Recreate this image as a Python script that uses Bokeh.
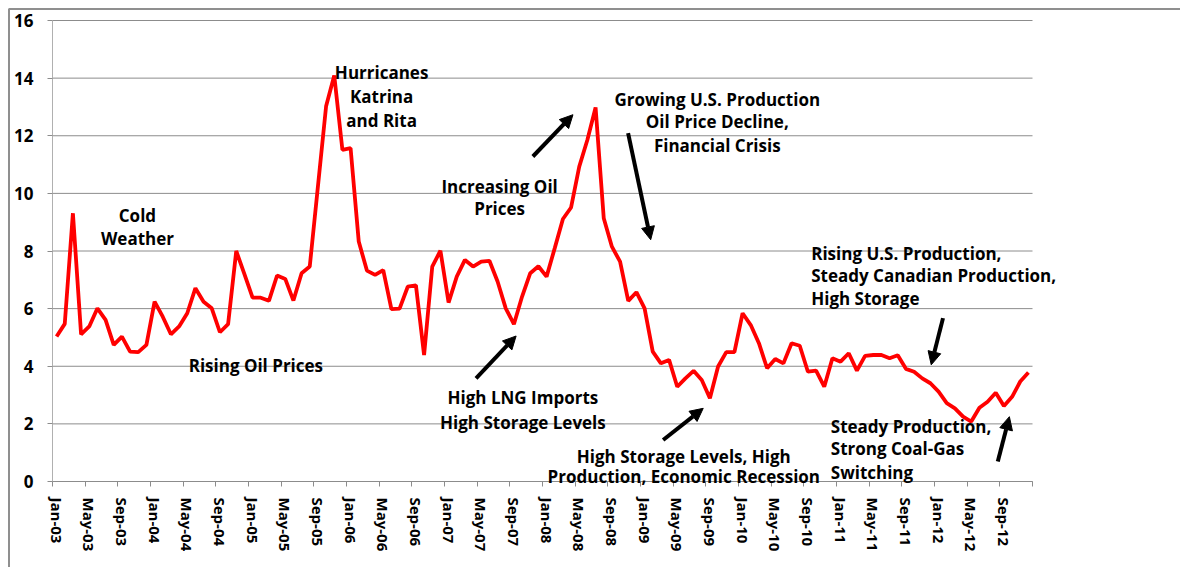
from bokeh.plotting import figure
from bokeh.models import FixedTicker, Label, Arrow, NormalHead, Range1d, ColumnDataSource, LinearAxis
from bokeh.embed import file_html
from bokeh.resources import INLINE

# ---- data ----
month_names = ["Jan", "Feb", "Mar", "Apr", "May", "Jun", "Jul", "Aug", "Sep", "Oct", "Nov", "Dec"]
months = [f"{m}-{y:02d}" for y in range(3, 13) for m in month_names]

prices = [
    5.03, 5.47, 9.31, 5.11, 5.38, 6.01, 5.61, 4.74, 5.03, 4.51, 4.49, 4.74,   # 2003
    6.24, 5.72, 5.11, 5.38, 5.84, 6.71, 6.24, 6.01, 5.18, 5.46, 8.00, 7.20,   # 2004
    6.38, 6.38, 6.27, 7.15, 7.03, 6.28, 7.23, 7.46, 10.24, 13.02, 14.09, 11.51, # 2005
    11.57, 8.33, 7.32, 7.17, 7.34, 5.98, 6.00, 6.76, 6.81, 4.39, 7.46, 8.01,  # 2006
    6.21, 7.11, 7.69, 7.46, 7.63, 7.66, 6.94, 6.01, 5.46, 6.42, 7.23, 7.47,   # 2007
    7.11, 8.10, 9.11, 9.51, 10.93, 11.86, 12.98, 9.14, 8.15, 7.63, 6.27, 6.57, # 2008
    6.01, 4.51, 4.10, 4.22, 3.29, 3.58, 3.84, 3.52, 2.89, 3.99, 4.49, 4.49,   # 2009
    5.84, 5.43, 4.80, 3.93, 4.25, 4.10, 4.80, 4.71, 3.81, 3.85, 3.29, 4.28,   # 2010
    4.16, 4.45, 3.85, 4.36, 4.39, 4.39, 4.28, 4.38, 3.91, 3.81, 3.58, 3.41,   # 2011
    3.12, 2.72, 2.54, 2.25, 2.08, 2.56, 2.77, 3.08, 2.62, 2.94, 3.47, 3.78,   # 2012
]

tick_labels = ["Jan-03", "May-03", "Sep-03", "Jan-04", "May-04", "Sep-04",
               "Jan-05", "May-05", "Sep-05", "Jan-06", "May-06", "Sep-06",
               "Jan-07", "May-07", "Sep-07", "Jan-08", "May-08", "Sep-08",
               "Jan-09", "May-09", "Sep-09", "Jan-10", "May-10", "Sep-10",
               "Jan-11", "May-11", "Sep-11", "Jan-12", "May-12", "Sep-12"]

y_ticks = [0, 2, 4, 6, 8, 10, 12, 14, 16]

# ---- layout geometry (pixels) ----
W, H = 1180, 567
PLOT_L, PLOT_R, PLOT_T, PLOT_B = 52, 1032, 20, 481
n = len(prices)
x_lo, x_hi = -0.5, n - 0.5
y_lo, y_hi = 0, 16
ppx = (PLOT_R - PLOT_L) / (x_hi - x_lo)
ppy = (PLOT_B - PLOT_T) / (y_hi - y_lo)
X0 = x_lo - PLOT_L / ppx
X1 = X0 + W / ppx
Y1 = y_hi + PLOT_T / ppy
Y0 = Y1 - H / ppy

FONT = "Open Sans"
GRAY = "#8c8c8c"

idx = list(range(n))
src = ColumnDataSource(dict(x=idx, y=prices, month=months))

p = figure(width=W, height=H, output_backend="svg", toolbar_location=None,
           x_range=Range1d(X0, X1), y_range=Range1d(Y0, Y1),
           x_axis_location=None, y_axis_location=None,
           min_border=0, min_border_left=0, min_border_right=0,
           min_border_top=0, min_border_bottom=0)
p.outline_line_color = None
p.background_fill_color = "white"
p.border_fill_color = "white"
p.xgrid.grid_line_color = None
p.ygrid.grid_line_color = None

# chart-area border (top and left edges)
bx = X0 + 8.5 / ppx
by = Y1 - 8.5 / ppy
p.line(x=[bx, bx, X1 + 5], y=[Y0 - 5, by, by], line_color="#8f8f8f", line_width=2)

# horizontal gridlines
p.segment(x0=[x_lo] * len(y_ticks), y0=y_ticks, x1=[x_hi] * len(y_ticks), y1=y_ticks,
          line_color=GRAY, line_width=1)

p.line("x", "y", source=src, line_color="#ff0000", line_width=3.8)

# x axis
tick_pos = [months.index(t) for t in tick_labels]
bounds = [i - 0.5 for i in range(0, n + 1, 4)]
xa = LinearAxis(fixed_location=y_lo, bounds=(x_lo, x_hi))
xa.ticker = FixedTicker(ticks=tick_pos, minor_ticks=bounds)
xa.major_label_overrides = {pos: lab for pos, lab in zip(tick_pos, tick_labels)}
xa.major_label_orientation = "vertical"
xa.major_tick_line_color = None
xa.major_tick_out = 0
xa.major_tick_in = 0
xa.minor_tick_out = 5
xa.minor_tick_in = 0
xa.minor_tick_line_color = GRAY
xa.axis_line_color = GRAY
xa.major_label_standoff = 11
xa.major_label_text_font = FONT
xa.major_label_text_font_style = "bold"
xa.major_label_text_font_size = "15px"
xa.major_label_text_color = "black"
p.add_layout(xa, "below")

# y axis
ya = LinearAxis(fixed_location=x_lo, bounds=(y_lo, y_hi))
ya.ticker = FixedTicker(ticks=y_ticks)
ya.minor_tick_line_color = None
ya.major_tick_out = 5
ya.major_tick_in = 0
ya.major_tick_line_color = GRAY
ya.axis_line_color = "#b0b0b0"
ya.major_label_standoff = 14
ya.major_label_text_font = FONT
ya.major_label_text_font_style = "bold"
ya.major_label_text_font_size = "17px"
ya.major_label_text_color = "black"
p.add_layout(ya, "left")

# ---- annotations ----
def add_text(x, y, text, align="center"):
    p.add_layout(Label(x=x, y=y, text=text, text_align=align, text_baseline="middle",
                       text_font=FONT, text_font_style="bold", text_font_size="17px",
                       text_color="black"))

for y, t in [(9.22, "Cold"), (8.42, "Weather")]:
    add_text(9.9, y, t)
for y, t in [(14.18, "Hurricanes"), (13.37, "Katrina"), (12.52, "and Rita")]:
    add_text(39.8, y, t)
add_text(24.4, 4.01, "Rising Oil Prices")
for y, t in [(10.24, "Increasing Oil"), (9.46, "Prices")]:
    add_text(54.25, y, t)
for y, t in [(13.25, "Growing U.S. Production"), (12.49, "Oil Price Decline,"), (11.65, "Financial Crisis")]:
    add_text(80.9, y, t)
for y, t in [(2.90, "High LNG Imports"), (2.04, "High Storage Levels")]:
    add_text(57.1, y, t)
for y, t in [(0.885, "High Storage Levels, High"), (0.17, "Production, Economic Recession")]:
    add_text(76.8, y, t)
for y, t in [(7.92, "Rising U.S. Production,"), (7.14, "Steady Canadian Production,"), (6.34, "High Storage")]:
    add_text(92.4, y, t, align="left")
for y, t in [(1.90, "Steady Production,"), (1.13, "Strong Coal-Gas"), (0.31, "Switching")]:
    add_text(94.8, y, t, align="left")

arrows = [
    (58.32, 11.28, 63.23, 12.73),
    (69.98, 12.09, 72.75, 8.39),
    (51.36, 3.58, 56.27, 5.05),
    (74.27, 1.44, 79.18, 2.54),
    (108.54, 5.67, 107.1, 4.05),
    (115.25, 0.69, 116.67, 2.25),
]
for xs, ys, xe, ye in arrows:
    p.add_layout(Arrow(x_start=xs, y_start=ys, x_end=xe, y_end=ye, line_width=4, line_color="black",
                       end=NormalHead(size=13, fill_color="black", line_color="black", line_width=1)))

open("out.html", "w").write(file_html(p, INLINE))
